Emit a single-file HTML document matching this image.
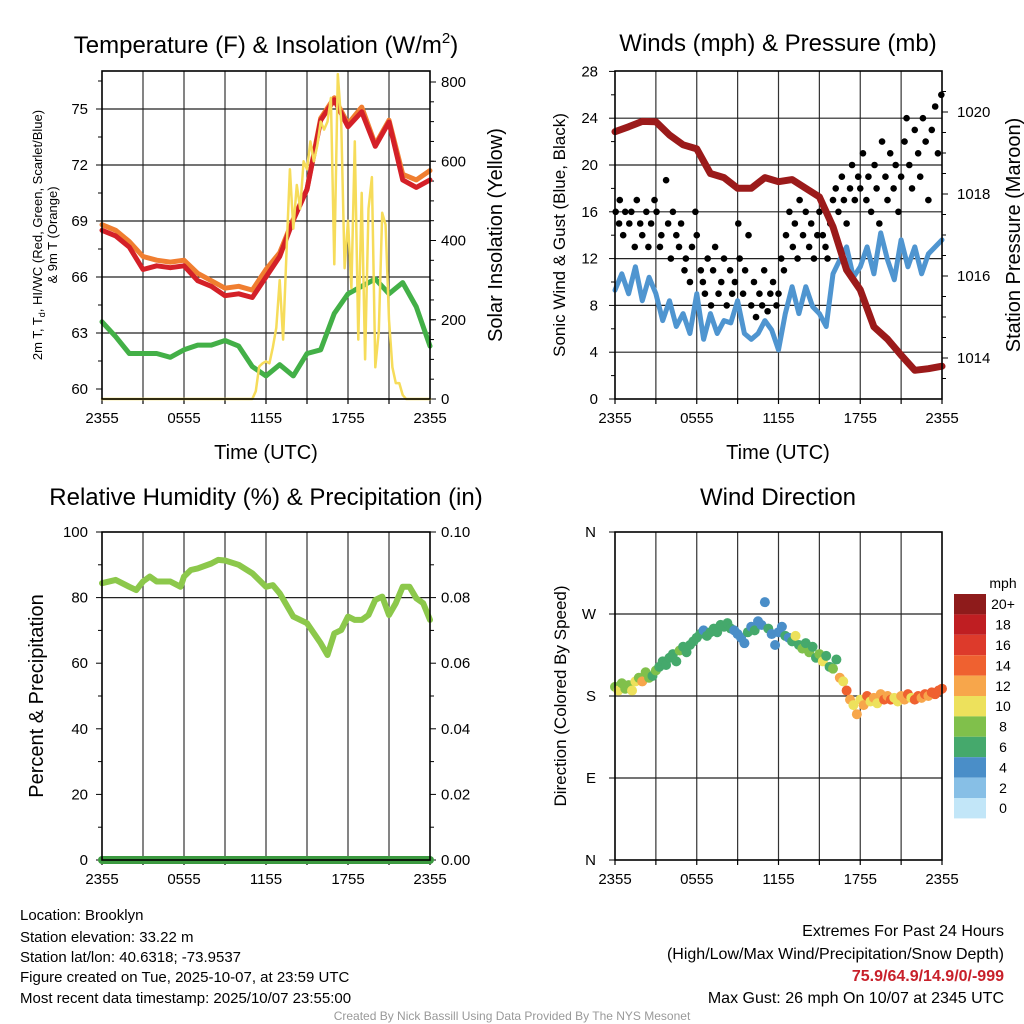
<!DOCTYPE html>
<html><head><meta charset="utf-8"><style>
html,body{margin:0;padding:0;background:#fff;}
svg{display:block;font-family:"Liberation Sans",sans-serif;}
</style></head><body>
<svg id="chart" width="1024" height="1024" viewBox="0 0 1024 1024">
<rect x="0" y="0" width="1024" height="1024" fill="#fff"/>
<text x="266" y="53" font-size="24" text-anchor="middle">Temperature (F) &amp; Insolation (W/m<tspan dy="-10" font-size="15">2</tspan><tspan dy="10">)</tspan></text>
<text x="778" y="51" font-size="24" text-anchor="middle">Winds (mph) &amp; Pressure (mb)</text>
<text x="266" y="505" font-size="24" text-anchor="middle">Relative Humidity (%) &amp; Precipitation (in)</text>
<text x="778" y="505" font-size="24" text-anchor="middle">Wind Direction</text>
<text x="266" y="459" font-size="20" text-anchor="middle">Time (UTC)</text>
<text x="778" y="459" font-size="20" text-anchor="middle">Time (UTC)</text>
<text transform="translate(42,235) rotate(-90)" font-size="13" text-anchor="middle">2m T, T<tspan font-size="9" dy="3">d</tspan><tspan dy="-3">, HI/WC (Red, Green, Scarlet/Blue)</tspan></text>
<text transform="translate(57,235) rotate(-90)" font-size="13" text-anchor="middle">&amp; 9m T (Orange)</text>
<text transform="translate(502,235) rotate(-90)" font-size="20" text-anchor="middle">Solar Insolation (Yellow)</text>
<text transform="translate(565,235) rotate(-90)" font-size="17" text-anchor="middle">Sonic Wind &amp; Gust (Blue, Black)</text>
<text transform="translate(1020,235) rotate(-90)" font-size="20" text-anchor="middle">Station Pressure (Maroon)</text>
<text transform="translate(43,696) rotate(-90)" font-size="20" text-anchor="middle">Percent &amp; Precipitation</text>
<text transform="translate(566,696) rotate(-90)" font-size="17" text-anchor="middle">Direction (Colored By Speed)</text>
<g font-size="15">
<text x="20" y="920">Location: Brooklyn</text>
<text x="20" y="942">Station elevation: 33.22 m</text>
<text x="20" y="962">Station lat/lon: 40.6318; -73.9537</text>
<text x="20" y="982">Figure created on Tue, 2025-10-07, at 23:59 UTC</text>
<text x="20" y="1003">Most recent data timestamp: 2025/10/07 23:55:00</text>
</g>
<g font-size="16" text-anchor="end">
<text x="1004" y="936">Extremes For Past 24 Hours</text>
<text x="1004" y="959">(High/Low/Max Wind/Precipitation/Snow Depth)</text>
<text x="1004" y="981" font-weight="bold" fill="#c8202a">75.9/64.9/14.9/0/-999</text>
<text x="1004" y="1003">Max Gust: 26 mph On 10/07 at 2345 UTC</text>
</g>
<text x="512" y="1020" font-size="12" fill="#999" text-anchor="middle">Created By Nick Bassill Using Data Provided By The NYS Mesonet</text>
<text x="1003" y="588" font-size="14" text-anchor="middle">mph</text>
</svg>
<script>
// ---- data ----
const timeTicks = ["2355","0555","1155","1755","2355"];
const hourly = [0,1,2,3,4,5,6,7,8,9,10,11,12,13,14,15,16,17,18,19,20,21,22,23,24];
const tempRed = [68.5,68.2,67.6,66.4,66.6,66.5,66.6,65.8,65.5,65.0,65.1,64.9,66.0,67.1,69.05,70.7,74.4,75.5,74.05,74.85,73.0,74.3,71.2,70.8,71.2];
const tempOrange = [68.8,68.5,67.9,67.1,66.9,66.8,66.9,66.2,65.8,65.4,65.5,65.3,66.4,67.3,69.1,70.7,74.5,75.6,74.2,75.1,73.1,74.4,71.5,71.2,71.7];
const dewGreen = [63.6,62.8,61.9,61.9,61.9,61.7,62.1,62.35,62.35,62.6,62.3,61.2,60.7,61.3,60.7,61.9,62.1,64.05,65.1,65.5,65.9,65.1,65.7,64.4,62.3];
const solar = [0,0,0,0,0,0,0,0,0,0,0,0,0,0,0,0,0,0,0,0,0,0,0,0,0,0,0,0,0,0,0,0,0,0,0,0,0,0,0,0,0,0,0,0,
 0,20,82,90,95,90,130,180,300,150,370,580,430,540,480,600,580,650,600,640,700,680,700,760,340,820,700,330,450,280,650,150,520,100,480,560,80,170,470,440,200,80,40,40,10,0,
 0,0,0,0,0,0,0];
const pressure = [1019.52,1019.64,1019.77,1019.76,1019.44,1019.2,1019.1,1018.5,1018.4,1018.14,1018.14,1018.4,1018.3,1018.35,1018.14,1017.93,1017.2,1016.15,1015.66,1014.76,1014.46,1014.07,1013.7,1013.74,1013.8];
const sonicWind = [9.3,10.7,9.0,11.3,8.4,10.4,9.0,6.7,8.4,6.2,7.3,5.6,9.0,5.1,7.3,5.6,6.7,6.5,8.4,5.6,5.1,5.6,6.7,5.9,4.2,7.3,9.6,7.3,9.6,7.9,7.3,6.2,10.7,11.9,13.0,10.4,11.3,13.0,10.7,14.2,11.9,10.2,13.6,11.3,13.0,10.7,12.4,13.0,13.6];
const gusts = [16,15,17,14,16,15,16,13,17,15,14,16,13,15,17,
 16,13,14,18.7,15,12,16,14,13,15,11,12,10,13,16,
 14,11,10,9,12,8,11,13,9,10,12,8,11,9,10,
 15,12,9,11,14,8,10,7,9,8,11,7.5,9,10,8,
 9,12,11,14,16,13,15,12,17,14,16,13,15,12,14,
 16,14,13,12,15,17,18,16,19,17,15,18,20,17,19,
 18,21,17,19,16,20,18,15,22,19,17,21,18,20,16,
 19,22,24,20,18,23,21,19,24,22,17,23,25,21,26];
const gustTimes = [0.05,0.3,0.35,0.6,0.75,1.05,1.2,1.45,1.6,1.85,2.0,2.3,2.45,2.65,2.9,
 3.05,3.3,3.4,3.75,3.9,4.1,4.25,4.5,4.7,4.85,5.1,5.2,5.5,5.65,5.9,
 6.0,6.3,6.45,6.6,6.8,7.05,7.2,7.35,7.6,7.8,8.0,8.2,8.45,8.6,8.8,
 9.05,9.15,9.4,9.55,9.8,10.0,10.2,10.35,10.6,10.8,10.95,11.2,11.4,11.6,11.85,
 12.0,12.2,12.4,12.55,12.8,13.05,13.2,13.4,13.55,13.8,14.0,14.25,14.4,14.6,14.85,
 15.0,15.25,15.45,15.6,15.8,16.0,16.2,16.4,16.65,16.8,17.0,17.25,17.4,17.6,17.85,
 18.0,18.2,18.45,18.6,18.8,19.05,19.2,19.4,19.6,19.85,20.0,20.2,20.45,20.6,20.8,
 21.0,21.25,21.4,21.6,21.8,22.0,22.25,22.4,22.6,22.8,23.0,23.25,23.5,23.7,23.95];
const rhHours = [0,1,2,2.5,3,3.5,4,5,5.75,6,6.5,7,8,8.5,9,10,11,12,12.5,13,14,15,16,16.5,17,17.5,18,18.5,19,19.5,20,20.5,21,21.5,22,22.5,23,23.5,24];
const rhValues = [84.4,85.4,83.3,82.3,84.9,86.4,84.9,84.9,83.3,86.4,88.4,88.9,90.4,91.5,91.3,90,87.4,83.3,83.8,81.3,74.2,72.2,66.1,62.5,69.1,70.1,74.2,73.2,73.2,74.7,79.3,80.3,74.7,78.3,83.3,83.3,79.8,78.3,73.2];
const precip = [0,0,0,0,0,0,0,0,0,0,0,0,0,0,0,0,0,0,0,0,0,0,0,0,0];
const windDir = [190,186,194,188,192,186,196,200,196,206,200,202,208,212,218,214,222,226,218,230,234,228,236,240,244,248,252,246,250,254,250,258,256,260,254,252,248,244,238,250,256,252,262,258,283,254,248,236,250,256,246,244,240,246,236,232,238,228,234,222,226,218,224,212,210,220,200,196,186,176,170,160,176,170,180,174,178,172,182,176,180,176,178,174,180,176,182,178,176,180,178,182,180,184,182,186,188];
const windSpd = [9,10,9,8,9,10,11,8,12,9,8,7,8,7,6,7,7,6,7,8,7,6,7,6,7,6,5,7,6,7,6,7,6,7,6,5,4,5,4,6,5,6,5,4,4,6,5,4,5,4,6,5,6,10,7,8,7,9,7,6,8,10,7,6,9,7,12,11,14,12,10,13,10,12,14,11,13,10,12,15,12,14,10,11,13,12,14,11,14,15,12,14,13,15,14,15,15];
const tempTicks = [60,63,66,69,72,75];
const solarTicks = [0,200,400,600,800];
const windTicks = [0,4,8,12,16,20,24,28];
const presTicks = [1014,1016,1018,1020];
const rhTicks = [0,20,40,60,80,100];
const precipTicks = ["0.00","0.02","0.04","0.06","0.08","0.10"];
const dirTicks = ["N","E","S","W","N"];
const cbLabels = ["20+","18","16","14","12","10","8","6","4","2","0"];
const cbColors = ["#8e1b1b","#bf1e22","#dd3a2b","#ef6130","#f7a64b","#ede15c","#80c04b","#45a96c","#4a8ec8","#87bfe6","#c2e6f8"];

// ---- helpers ----
const NS = "http://www.w3.org/2000/svg";
const svg = document.getElementById("chart");
function mk(tag, attrs, parent) {
  const e = document.createElementNS(NS, tag);
  for (const k in attrs) e.setAttribute(k, attrs[k]);
  (parent || svg).appendChild(e);
  return e;
}
function linScale(d0, d1, r0, r1) { return v => r0 + (v - d0) * (r1 - r0) / (d1 - d0); }
function pathFrom(xs, ys) { return xs.map((x, i) => (i ? "L" : "M") + x.toFixed(1) + "," + ys[i].toFixed(1)).join(""); }

function panel(name, x0, x1, y0, y1) {
  const g = mk("g", {});
  
  
  const xs = linScale(0, 24, x0, x1);
  for (let h = 3; h < 24; h += 3) {
    const l = mk("line", {x1: xs(h), x2: xs(h), y1: y0, y2: y1, stroke: "#333", "stroke-width": 1.2}, g);
    
    
  }
  for (let h = 0; h <= 24; h += 3) {
    mk("line", {x1: xs(h), x2: xs(h), y1: y1, y2: y1 + 5, stroke: "#000", "stroke-width": 1.2}, g);
  }
  timeTicks.forEach((t, i) => {
    const tx = mk("text", {x: xs(i * 6), y: y1 + 24, "font-size": 15, "text-anchor": "middle"}, g);
    tx.textContent = t;
    
    
  });
  return {g, xs};
}
function hgrid(g, x0, x1, y) {
  const l = mk("line", {x1: x0, x2: x1, y1: y, y2: y, stroke: "#222", "stroke-width": 1.2}, g);
  
  
}
function frame(g, x0, x1, y0, y1) {
  const r = mk("rect", {x: x0, y: y0, width: x1 - x0, height: y1 - y0, fill: "none", stroke: "#000", "stroke-width": 1.6}, g);
  
  
}
function tickLabel(g, x, y, txt, anchor) {
  const t = mk("text", {x: x, y: y + 5, "font-size": 15, "text-anchor": anchor}, g);
  t.textContent = txt;
  
  
}
function line(g, d, color, w, name) {
  const p = mk("path", {d: d, fill: "none", stroke: color, "stroke-width": w, "stroke-linejoin": "round", "stroke-linecap": "round"}, g);
  
  
  return p;
}

// ---- Panel 1: temperature ----
{
  const X0 = 102, X1 = 430, Y0 = 71, Y1 = 399;
  const {g, xs} = panel("temperature-panel", X0, X1, Y0, Y1);
  const ty = linScale(60, 75, 389, 109);
  const sy = linScale(0, 800, 399, 82);
  tempTicks.forEach(v => { if (v > 60) hgrid(g, X0, X1, ty(v)); tickLabel(g, 88, ty(v), String(v), "end"); mk("line", {x1: X0 - 6, x2: X0, y1: ty(v), y2: ty(v), stroke: "#000"}, g); });
  for (let v = 61.5; v < 77; v += 3) mk("line", {x1: X0 - 4, x2: X0, y1: ty(v), y2: ty(v), stroke: "#000"}, g);
  solarTicks.forEach(v => { tickLabel(g, 441, sy(v), String(v), "start"); mk("line", {x1: X1, x2: X1 + 6, y1: sy(v), y2: sy(v), stroke: "#000"}, g); });
  for (let v = 50; v < 820; v += 50) mk("line", {x1: X1, x2: X1 + 4, y1: sy(v), y2: sy(v), stroke: "#000"}, g);
  const hx = hourly.map(xs);
  line(g, pathFrom(hx, dewGreen.map(ty)), "#43b047", 5, "dewpoint-line");
  line(g, pathFrom(hx, tempOrange.map(ty)), "#f07e30", 5, "temp-9m-line");
  line(g, pathFrom(hx, tempRed.map(ty)), "#d42028", 5, "temp-2m-line");
  line(g, pathFrom(solar.map((v, i) => xs(i * 0.25)), solar.map(sy)), "#f6dc5a", 2.5, "solar-line");
  frame(g, X0, X1, Y0, Y1);
}
// ---- Panel 2: winds ----
{
  const X0 = 615, X1 = 942, Y0 = 71, Y1 = 399;
  const {g, xs} = panel("winds-panel", X0, X1, Y0, Y1);
  const wy = linScale(0, 28, 399, 71.4);
  const py = linScale(1014, 1020, 358, 112);
  windTicks.forEach(v => { if (v > 0 && v < 28) hgrid(g, X0, X1, wy(v)); tickLabel(g, 598, wy(v), String(v), "end"); mk("line", {x1: X0 - 6, x2: X0, y1: wy(v), y2: wy(v), stroke: "#000"}, g); });
  for (let v = 2; v < 28; v += 4) mk("line", {x1: X0 - 4, x2: X0, y1: wy(v), y2: wy(v), stroke: "#000"}, g);
  presTicks.forEach(v => { tickLabel(g, 957, py(v), String(v), "start"); mk("line", {x1: X1, x2: X1 + 6, y1: py(v), y2: py(v), stroke: "#000"}, g); });
  for (let v = 1013.5; v < 1021; v += 0.5) mk("line", {x1: X1, x2: X1 + 4, y1: py(v), y2: py(v), stroke: "#000"}, g);
  line(g, pathFrom(sonicWind.map((v, i) => xs(i * 0.5)), sonicWind.map(wy)), "#4f95d0", 5, "sonic-wind-line");
  gusts.forEach((v, i) => {
    const c = mk("circle", {cx: xs(gustTimes[i]), cy: wy(v), r: 3.3, fill: "#000"}, g);
    
    
  });
  line(g, pathFrom(hourly.map(xs), pressure.map(py)), "#9b1a1a", 7, "pressure-line");
  frame(g, X0, X1, Y0, Y1);
}
// ---- Panel 3: humidity ----
{
  const X0 = 102, X1 = 430, Y0 = 532, Y1 = 860;
  const {g, xs} = panel("humidity-panel", X0, X1, Y0, Y1);
  const ry = linScale(0, 100, 860, 532);
  const pry = linScale(0, 0.10, 860, 532);
  rhTicks.forEach(v => { tickLabel(g, 88, ry(v), String(v), "end"); mk("line", {x1: X0 - 6, x2: X0, y1: ry(v), y2: ry(v), stroke: "#000"}, g); });
  for (let v = 10; v < 100; v += 20) mk("line", {x1: X0 - 4, x2: X0, y1: ry(v), y2: ry(v), stroke: "#000"}, g);
  hgrid(g, X0, X1, ry(80));
  precipTicks.forEach(v => { tickLabel(g, 441, pry(parseFloat(v)), v, "start"); mk("line", {x1: X1, x2: X1 + 6, y1: pry(parseFloat(v)), y2: pry(parseFloat(v)), stroke: "#000"}, g); });
  for (let v = 0.01; v < 0.1; v += 0.02) mk("line", {x1: X1, x2: X1 + 4, y1: pry(v), y2: pry(v), stroke: "#000"}, g);
  line(g, pathFrom(rhHours.map(xs), rhValues.map(ry)), "#8cc84b", 6, "humidity-line");
  line(g, pathFrom(hourly.map(xs), precip.map(pry)), "#3c9a40", 8, "precipitation-line");
  frame(g, X0, X1, Y0, Y1);
}
// ---- Panel 4: direction ----
{
  const X0 = 615, X1 = 942, Y0 = 532, Y1 = 860;
  const {g, xs} = panel("wind-direction-panel", X0, X1, Y0, Y1);
  const dy = linScale(0, 360, 860, 532);
  dirTicks.forEach((t, i) => { const v = i * 90; if (v > 0 && v < 360) hgrid(g, X0, X1, dy(v)); tickLabel(g, 596, dy(v), t, "end"); mk("line", {x1: X0 - 6, x2: X0, y1: dy(v), y2: dy(v), stroke: "#000"}, g); });
  windDir.forEach((v, i) => {
    const k = Math.min(10, Math.floor(windSpd[i] / 2));
    const c = mk("circle", {cx: xs(i * 0.25), cy: dy(v), r: 5, fill: cbColors[10 - k]}, g);
    
    
  });
  frame(g, X0, X1, Y0, Y1);
  const cb = mk("g", {});
  
  
  const bh = 20.4;
  cbLabels.forEach((t, i) => {
    const r = mk("rect", {x: 954, y: 594 + i * bh, width: 32, height: bh, fill: cbColors[i]}, cb);
    
    
    const tx = mk("text", {x: 1003, y: 594 + i * bh + bh / 2 + 5, "font-size": 14, "text-anchor": "middle"}, cb);
    tx.textContent = t;
    
    
  });
}
</script>
</body></html>
